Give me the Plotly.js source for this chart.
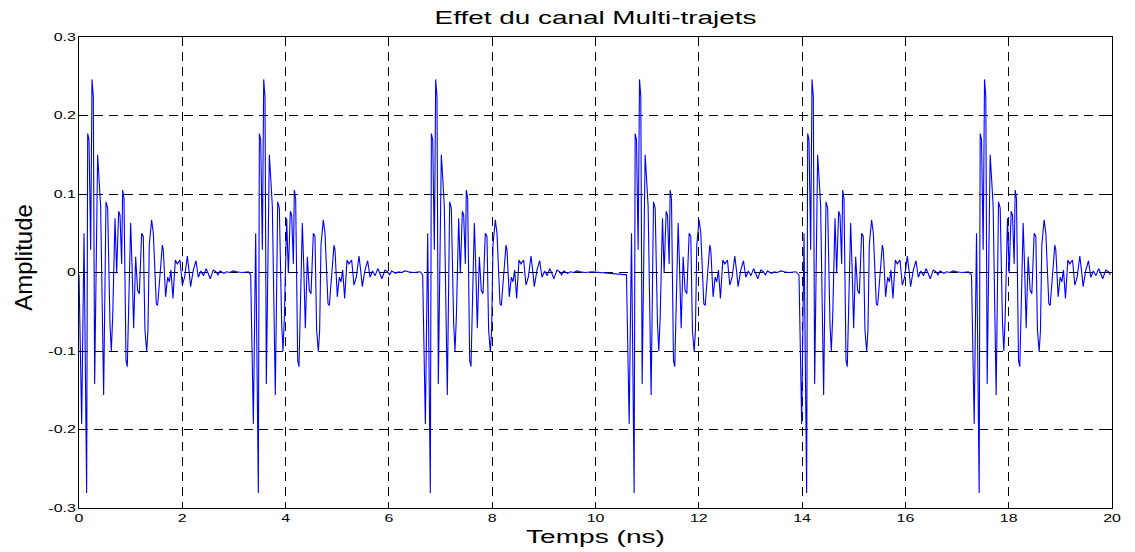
<!DOCTYPE html>
<html>
<head>
<meta charset="utf-8">
<script src="https://cdn.plot.ly/plotly-3.0.1.min.js"></script>
<style>
  html, body { margin: 0; padding: 0; background: #fff; }
  #chart { width: 1135px; height: 552px; }
</style>
</head>
<body>
<div id="chart"></div>
<script>
// One received multipath pulse (time after pulse start, ns)
const pulseT = [0, 0.052, 0.097, 0.148, 0.168, 0.194, 0.226, 0.252, 0.277, 0.303,
  0.361, 0.394, 0.419, 0.477, 0.523, 0.555, 0.600, 0.626, 0.652, 0.697,
  0.729, 0.768, 0.794, 0.826, 0.845, 0.871, 0.910, 0.935, 1.000, 1.026,
  1.058, 1.097, 1.135, 1.168, 1.213, 1.245, 1.277, 1.310, 1.335, 1.361,
  1.406, 1.439, 1.497, 1.523, 1.568, 1.613, 1.632, 1.677, 1.716, 1.748,
  1.781, 1.819, 1.865, 1.903, 1.955, 2.000, 2.045, 2.097, 2.129, 2.161,
  2.213, 2.265, 2.310, 2.360, 2.410, 2.460, 2.500, 2.540, 2.600, 2.650,
  2.690, 2.730, 2.807, 2.859, 2.924, 2.988, 3.053, 3.150, 3.280];
const pulseY = [-0.003, -0.193, 0.050, -0.281, 0.177, 0.169, 0.029, 0.246, 0.224, -0.142,
  0.150, 0.114, 0.084, -0.156, 0.090, 0.082, -0.065, -0.100, -0.057, 0.069,
  -0.001, 0.078, 0.073, 0.011, 0.105, 0.094, -0.112, -0.120, 0.063, 0.011,
  -0.071, 0.020, -0.023, -0.027, 0.050, 0.046, -0.074, -0.101, -0.074, 0.035,
  0.067, 0.050, -0.040, -0.042, 0.003, 0.035, 0.029, -0.031, -0.006, -0.012,
  0.003, -0.033, 0.016, 0.011, 0.016, -0.016, -0.006, 0.021, 0.003, -0.018,
  0.003, 0.015, -0.006, 0.002, -0.004, 0.005, -0.001, -0.008, 0.003, 0.001,
  -0.003, 0.002, -0.001, 0.001, 0.000, 0.002, 0.001, 0.000, 0.001];
// Arrival time of each pulse (ns)
const pulseStarts = [0, 3.324, 6.654, 10.60, 13.94, 17.28];

const xTicks = [0, 2, 4, 6, 8, 10, 12, 14, 16, 18, 20];
const yTicks = [-0.3, -0.2, -0.1, 0, 0.1, 0.2, 0.3];
const yTickText = ['-0.3', '-0.2', '-0.1', '0', '0.1', '0.2', '0.3'];

const xs = [], ys = [];
pulseStarts.forEach(s => {
  pulseT.forEach((t, i) => {
    if (s + t <= 20) { xs.push(s + t); ys.push(pulseY[i]); }
  });
});

const font = 'Liberation Sans, Arial, Helvetica, sans-serif';
const axisCommon = {
  showline: true, linecolor: '#000', linewidth: 1, mirror: 'ticks',
  ticks: 'inside', ticklen: 5, tickcolor: '#000', tickwidth: 1,
  showgrid: true, gridcolor: '#000', gridwidth: 1, griddash: '9px,6px',
  zeroline: false, tickfont: {family: font, size: 11, color: '#000'}
};

const layout = {
  width: 1135, height: 552,
  margin: {l: 79, r: 23, t: 37, b: 44},
  paper_bgcolor: '#fff', plot_bgcolor: '#fff',
  showlegend: false,
  title: {text: 'Effet du canal Multi-trajets', x: 0.5247, xanchor: 'center',
          y: 1 - 18 / 552, yanchor: 'middle', yref: 'container',
          font: {family: font, size: 18, color: '#000'}},
  xaxis: Object.assign({}, axisCommon, {
    range: [0, 20], tickvals: xTicks, ticktext: xTicks.map(String),
    title: {text: 'Temps (ns)', standoff: 6, font: {family: font, size: 19, color: '#000'}},
    automargin: false
  }),
  yaxis: Object.assign({}, axisCommon, {
    range: [-0.3, 0.3], tickvals: yTicks, ticktext: yTickText,
    title: {text: 'Amplitude', standoff: 8, font: {family: font, size: 24, color: '#000'}},
    automargin: false
  })
};

const trace = {
  x: xs, y: ys, type: 'scatter', mode: 'lines',
  line: {color: '#0000ff', width: 1.1}, hoverinfo: 'skip'
};

function stretch(el, s, anchor) {
  const b = el.getBBox();
  const ax = anchor === 'end' ? b.x + b.width : b.x + b.width / 2;
  const ay = b.y + b.height / 2;
  const tr = el.getAttribute('transform') || '';
  el.setAttribute('transform', tr + ' translate(' + ax + ',' + ay + ') scale(' + s + ',1) translate(' + (-ax) + ',' + (-ay) + ')');
}

Plotly.newPlot('chart', [trace], layout, {displayModeBar: false, staticPlot: true}).then(gd => {
  gd.querySelectorAll('.gtitle').forEach(el => stretch(el, 1.55, 'middle'));
  gd.querySelectorAll('.xtick text').forEach(el => stretch(el, 1.45, 'middle'));
  gd.querySelectorAll('.ytick text').forEach(el => stretch(el, 1.45, 'end'));
  gd.querySelectorAll('.g-xtitle text').forEach(el => stretch(el, 1.48, 'middle'));
  const yt = gd.querySelector('.g-ytitle');
  if (yt) yt.setAttribute('transform', 'translate(-9,-15)');
});
</script>
</body>
</html>
